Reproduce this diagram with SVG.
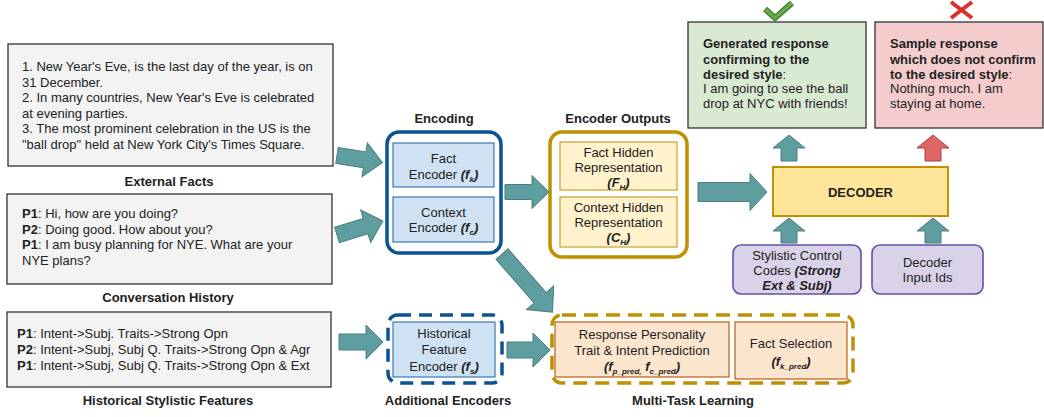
<svg xmlns="http://www.w3.org/2000/svg" width="1044" height="417" viewBox="0 0 1044 417">
<style>
text{font-family:"Liberation Sans",Arial,sans-serif;font-size:13px;fill:#222}
.b{font-weight:bold}
.bi{font-weight:bold;font-style:italic}
.sub{font-size:8px;font-style:italic;font-weight:bold}
.m{text-anchor:middle}
.grey{fill:#f3f3f3;stroke:#333;stroke-width:1.3}
.blueIn{fill:#cfe2f3;stroke:#3d78b5;stroke-width:1.2}
.yelIn{fill:#fff2cc;stroke:#c9a02a;stroke-width:1.2}
.orgIn{fill:#fce5cd;stroke:#c06a2a;stroke-width:1.3}
.pur{fill:#d9d2e9;stroke:#674ea7;stroke-width:1.6}
.arr{fill:#5f9ea0;stroke:#4b7d81;stroke-width:1}
.arrR{fill:#e06666;stroke:#a34444;stroke-width:1}
</style>

<g id="external-facts">
<rect class="grey" x="8" y="44" width="325" height="122"/>
<text x="22" y="71">1. New Year's Eve, is the last day of the year, is on</text>
<text x="22" y="86.5">31 December.</text>
<text x="22" y="102">2. In many countries, New Year's Eve is celebrated</text>
<text x="22" y="117.5">at evening parties.</text>
<text x="22" y="133">3. The most prominent celebration in the US is the</text>
<text x="22" y="148.5">"ball drop" held at New York City's Times Square.</text>
<text class="b m" x="169" y="185.5">External Facts</text>
</g>

<g id="conversation-history">
<rect class="grey" x="7" y="194" width="325" height="90"/>
<text x="22" y="218"><tspan class="b">P1</tspan>: Hi, how are you doing?</text>
<text x="22" y="233.5"><tspan class="b">P2</tspan>: Doing good. How about you?</text>
<text x="22" y="249"><tspan class="b">P1</tspan>: I am busy planning for NYE. What are your</text>
<text x="22" y="264.5">NYE plans?</text>
<text class="b m" x="168" y="301.5">Conversation History</text>
</g>

<g id="historical-features">
<rect class="grey" x="7" y="312" width="324" height="75"/>
<text x="17" y="338"><tspan class="b">P1</tspan>: Intent-&gt;Subj. Traits-&gt;Strong Opn</text>
<text x="17" y="354"><tspan class="b">P2</tspan>: Intent-&gt;Subj, Subj Q. Traits-&gt;Strong Opn &amp; Agr</text>
<text x="17" y="369.5"><tspan class="b">P1</tspan>: Intent-&gt;Subj, Subj Q. Traits-&gt;Strong Opn &amp; Ext</text>
<text class="b m" x="168" y="404.5">Historical Stylistic Features</text>
</g>

<g id="encoding">
<rect x="387" y="132" width="114" height="121" rx="12" fill="#fff" stroke="#0b5394" stroke-width="3.5"/>
<text class="b m" x="444" y="122.5">Encoding</text>
</g>
<g id="fact-encoder">
<rect class="blueIn" x="393" y="143" width="101" height="44"/>
<text class="m" x="443.5" y="162.5">Fact</text>
<text class="m" x="443.5" y="178.5">Encoder <tspan class="bi">(f</tspan><tspan class="sub" dy="3">k</tspan><tspan class="bi" dy="-3">)</tspan></text>
</g>
<g id="context-encoder">
<rect class="blueIn" x="393" y="197" width="101" height="45"/>
<text class="m" x="443.5" y="216.5">Context</text>
<text class="m" x="443.5" y="232">Encoder <tspan class="bi">(f</tspan><tspan class="sub" dy="3">c</tspan><tspan class="bi" dy="-3">)</tspan></text>
</g>

<g id="additional-encoders">
<rect x="388" y="315" width="114" height="68" rx="10" fill="#fff" stroke="#0b5394" stroke-width="3.5" stroke-dasharray="13 8"/>
<text class="b m" x="448" y="404.5">Additional Encoders</text>
</g>
<g id="historical-feature-encoder">
<rect class="blueIn" x="393" y="322" width="102" height="55"/>
<text class="m" x="444" y="337.5">Historical</text>
<text class="m" x="444" y="354">Feature</text>
<text class="m" x="444" y="370.5">Encoder <tspan class="bi">(f</tspan><tspan class="sub" dy="3">s</tspan><tspan class="bi" dy="-3">)</tspan></text>
</g>

<g id="encoder-outputs">
<rect x="550" y="132" width="137" height="125" rx="12" fill="#fff" stroke="#bf9000" stroke-width="3.5"/>
<text class="b m" x="618" y="122.5">Encoder Outputs</text>
</g>
<g id="fact-hidden">
<rect class="yelIn" x="560" y="142" width="117" height="48"/>
<text class="m" x="618.5" y="156.5">Fact Hidden</text>
<text class="m" x="618.5" y="171.5">Representation</text>
<text class="m" x="618.5" y="186.5"><tspan class="bi">(F</tspan><tspan class="sub" dy="3">H</tspan><tspan class="bi" dy="-3">)</tspan></text>
</g>
<g id="context-hidden">
<rect class="yelIn" x="560" y="197" width="117" height="50"/>
<text class="m" x="618.5" y="211.5">Context Hidden</text>
<text class="m" x="618.5" y="227">Representation</text>
<text class="m" x="618.5" y="241.5"><tspan class="bi">(C</tspan><tspan class="sub" dy="3">H</tspan><tspan class="bi" dy="-3">)</tspan></text>
</g>

<g id="multi-task-learning">
<rect x="552" y="315" width="301" height="68" rx="10" fill="#fff" stroke="#bf9000" stroke-width="3.5" stroke-dasharray="14 8"/>
<text class="b m" x="693" y="404.5">Multi-Task Learning</text>
</g>
<g id="personality-prediction">
<rect class="orgIn" x="555" y="322" width="174" height="55"/>
<text class="m" x="642" y="338.5">Response Personality</text>
<text class="m" x="642" y="354.5">Trait &amp; Intent Prediction</text>
<text class="m" x="642" y="371"><tspan class="bi">(f</tspan><tspan class="sub" dy="3">p_pred,</tspan><tspan dy="-3"> </tspan><tspan class="bi">f</tspan><tspan class="sub" dy="3">c_pred</tspan><tspan class="bi" dy="-3">)</tspan></text>
</g>
<g id="fact-selection">
<rect class="orgIn" x="735" y="322" width="112" height="57"/>
<text class="m" x="791" y="347.5">Fact Selection</text>
<text class="m" x="791" y="366"><tspan class="bi">(f</tspan><tspan class="sub" dy="3">k_pred</tspan><tspan class="bi" dy="-3">)</tspan></text>
</g>

<g id="decoder">
<rect x="773" y="167" width="175" height="49" fill="#ffe599" stroke="#bf9000" stroke-width="2"/>
<text class="b m" x="860.5" y="196.5">DECODER</text>
</g>

<g id="stylistic-control-codes">
<rect class="pur" x="733" y="245" width="128" height="49" rx="8"/>
<text class="m" x="797" y="259.5">Stylistic Control</text>
<text class="m" x="797" y="274.5">Codes <tspan class="bi">(Strong</tspan></text>
<text class="m bi" x="797" y="289.5">Ext &amp; Subj)</text>
</g>

<g id="decoder-input-ids">
<rect class="pur" x="872" y="245" width="111" height="49" rx="8"/>
<text class="m" x="927.5" y="266.5">Decoder</text>
<text class="m" x="927.5" y="281.5">Input Ids</text>
</g>

<g id="generated-response">
<rect x="688" y="22" width="178" height="106" fill="#d9ead3" stroke="#333" stroke-width="1.3"/>
<text class="b" x="703" y="48">Generated response</text>
<text class="b" x="703" y="63.5">confirming to the</text>
<text x="703" y="78.5"><tspan class="b">desired style</tspan>:</text>
<text x="703" y="93">I am going to see the ball</text>
<text x="703" y="107.5">drop at NYC with friends!</text>
<path d="M765,9 L775,18 L792,3" fill="none" stroke="#3f7f2f" stroke-width="6"/>
<path d="M765,9 L775,18 L792,3" fill="none" stroke="#6aa84f" stroke-width="3.5"/>
</g>

<g id="sample-response">
<rect x="875" y="22" width="168" height="106" fill="#f4cccc" stroke="#333" stroke-width="1.3"/>
<text class="b" x="890" y="48">Sample response</text>
<text class="b" x="890" y="63.5">which does not confirm</text>
<text x="890" y="78.5"><tspan class="b">to the desired style</tspan>:</text>
<text x="890" y="93">Nothing much. I am</text>
<text x="890" y="107.5">staying at home.</text>
<path d="M951,2 L972,18 M972,2 L951,18" stroke="#d9302c" stroke-width="4"/>
</g>

<g id="connectors">
<g transform="translate(337,155.5) rotate(9)"><polygon class="arr" points="0,-8 28,-8 28,-17 46,0 28,17 28,8 0,8"/></g>
<g transform="translate(337,235) rotate(-17)"><polygon class="arr" points="0,-8 30,-8 30,-17 48,0 30,17 30,8 0,8"/></g>
<polygon class="arr" points="339,334 366,334 366,325 383,342 366,359 366,350 339,350"/>
<polygon class="arr" points="505,184.5 532,184.5 532,175.5 549,192 532,208.5 532,199.5 505,199.5"/>
<g transform="translate(502,254) rotate(49)"><polygon class="arr" points="0,-8 58,-8 58,-18 77,0 58,18 58,8 0,8"/></g>
<polygon class="arr" points="507,342 533,342 533,333 550,350 533,367 533,358 507,358"/>
<polygon class="arr" points="698,182.5 750,182.5 750,173.5 767,192 750,210.5 750,201.5 698,201.5"/>
<polygon class="arr" points="781,161 781,148 773,148 789,135 805,148 797,148 797,161"/>
<polygon class="arrR" points="925,161 925,148 917,148 933,135 949,148 941,148 941,161"/>
<polygon class="arr" points="781,243 781,231 773,231 789,218 805,231 797,231 797,243"/>
<polygon class="arr" points="925,243 925,231 917,231 933,218 949,231 941,231 941,243"/>
</g>
</svg>
